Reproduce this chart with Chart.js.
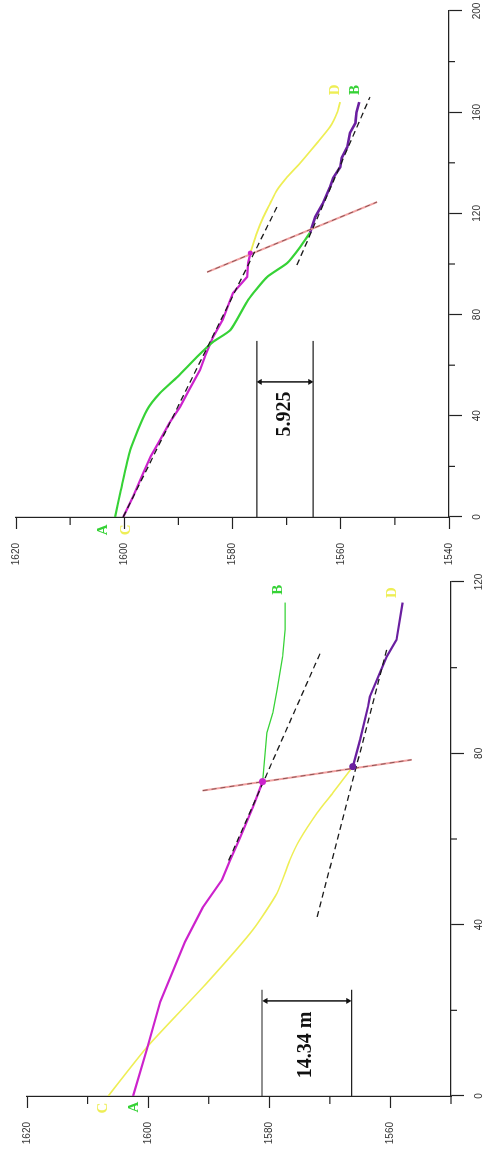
<!DOCTYPE html>
<html>
<head>
<meta charset="utf-8">
<script src="https://cdn.jsdelivr.net/npm/chart.js@4.4.1/dist/chart.umd.min.js"></script>
<style>
  html, body { margin: 0; padding: 0; background: #fff; overflow: hidden; }
  #wrap {
    position: absolute; left: 0; top: 0;
    width: 1158px; height: 489px;
    transform-origin: 0 0;
    transform: translate(0, 1158px) rotate(-90deg);
  }
  #wrap canvas { position: absolute; left: 0; top: 0; }
</style>
</head>
<body>
<div id="wrap">
  <canvas id="profile-a" width="1158" height="489"></canvas>
  <canvas id="profile-b" width="1158" height="489"></canvas>
</div>
<script>
// ---- panel 1 (distance 0..120) ----
const distTicks1 = [0, 40, 80, 120];
const distMinor1 = [20, 60, 100];
const elevTicks1 = [1560, 1580, 1600, 1620];
const elevMinor1 = [1550, 1570, 1590, 1610];

const upperHwDist1 = [0, 11, 22, 36, 44, 50.5, 55, 60, 67.5, 73.4];
const upperHwElev1 = [1602.5, 1600.2, 1598, 1593.9, 1591, 1587.8, 1586.5, 1584.9, 1582.7, 1581.1];
const upperFwDist1 = [73.4, 80.1, 84.8, 89.5, 94.9, 102.6, 108.9, 115.2];
const upperFwElev1 = [1581.1, 1580.7, 1580.4, 1579.4, 1578.7, 1577.8, 1577.4, 1577.4];
const lowerHwDist1 = [0, 11.4, 26.4, 38.8, 47.4, 55.1, 59.8, 66.1, 70.8, 76.9];
const lowerHwElev1 = [1606.6, 1600.2, 1590.3, 1582.7, 1578.7, 1576.6, 1575, 1572.1, 1569.5, 1566.2];
const lowerFwDist1 = [76.9, 83.2, 90.9, 93.2, 97.2, 102.6, 106.5, 115.2];
const lowerFwElev1 = [1566.2, 1565, 1563.7, 1563.4, 1562.2, 1560.6, 1559, 1558];

const fitUpperDist1 = [55, 104];
const fitUpperElev1 = [1586.7, 1571.4];
const fitLowerDist1 = [41.8, 104.2];
const fitLowerElev1 = [1572.1, 1560.6];
const faultDist1 = [71.3, 78.5];
const faultElev1 = [1591, 1556.5];
const pierceDist1 = [73.4, 76.9];
const pierceElev1 = [1581.1, 1566.2];

const offsetElev1 = [1581.2, 1566.4];
const offsetSpan1 = [0, 24.8];
const offsetArrowDist1 = 22.2;
const offsetText1 = '14.34 m';

// ---- panel 2 (distance 0..200) ----
const distTicks2 = [0, 40, 80, 120, 160, 200];
const distMinor2 = [20, 60, 100, 140, 180];
const elevTicks2 = [1540, 1560, 1580, 1600, 1620];
const elevMinor2 = [1550, 1570, 1590, 1610];

const upperHwDist2 = [0, 10, 26.5, 42.3, 49, 55.3, 63.2, 69.2, 73.9, 85.8, 94.9, 100.4, 106.7, 112.3];
const upperHwElev2 = [1601.7, 1600.7, 1598.9, 1595.8, 1593.4, 1590.2, 1586.6, 1583.6, 1580.4, 1577.1, 1573.6, 1569.9, 1567.5, 1565.7];
const upperFwDist2 = [112.3, 118.6, 124, 130.4, 134, 138.3, 142, 146.2, 151.8, 155.7, 160, 164];
const upperFwElev2 = [1565.7, 1564.7, 1563.3, 1562, 1561.4, 1560.1, 1559.8, 1558.8, 1558.3, 1557.3, 1557.1, 1556.6];
const lowerHwDist2 = [0, 8, 17.4, 24, 30.4, 37, 43.5, 50, 58.1, 64, 71.1, 78, 85.8, 88.5, 94.9, 100.4, 104.3];
const lowerHwElev2 = [1600.2, 1598.4, 1596.5, 1595.1, 1593.4, 1591.7, 1589.7, 1588.1, 1586, 1585, 1583.6, 1581.8, 1580.4, 1579.9, 1577.3, 1577.1, 1576.7];
const lowerFwDist2 = [104.3, 112.3, 118.6, 124.1, 129.2, 134.4, 139.9, 147.8, 154.2, 159.7, 164];
const lowerFwElev2 = [1576.7, 1575.5, 1574.3, 1573, 1571.8, 1569.9, 1567.5, 1564.4, 1562, 1560.7, 1560.1];

const fitUpperDist2 = [0, 122.5];
const fitUpperElev2 = [1600.2, 1571.8];
const fitLowerDist2 = [99.6, 166];
const fitLowerElev2 = [1568.1, 1554.6];
const faultDist2 = [96.8, 124.5];
const faultElev2 = [1584.7, 1553.3];
const pierceDist2 = [104.3];
const pierceElev2 = [1576.7];

const offsetElev2 = [1575.5, 1565.1];
const offsetSpan2 = [0, 69.6];
const offsetArrowDist2 = 53.4;
const offsetText2 = '5.925';

const GREEN = '#36d236';
const YELLOW = '#eeee55';
const MAGENTA = '#cc22cc';
const PURPLE = '#6a1fa0';

function pts(xs, ys) {
    return xs.map((x, i) => ({ x: x, y: ys[i] }));
}

function lineSet(xs, ys, color, width, extra) {
    return Object.assign({
        data: pts(xs, ys),
        showLine: true,
        borderColor: color,
        backgroundColor: color,
        borderWidth: width,
        pointRadius: 0,
        tension: 0,
        order: 5
    }, extra || {});
}

function dimensionSets(elev, span, arrowX) {
    return [
        lineSet(span, [elev[0], elev[0]], '#222', 1.2, { order: 6 }),
        lineSet(span, [elev[1], elev[1]], '#222', 1.2, { order: 6 }),
        lineSet([arrowX, arrowX], [elev[1] + 0.6, elev[0] - 0.6], '#111', 1.5, {
            order: 6,
            pointRadius: 3.5,
            pointStyle: 'triangle',
            pointRotation: [180, 0],
            pointBorderWidth: 0
        })
    ];
}

const overlay = {
    id: 'overlay',
    afterDraw(chart, args, opts) {
        const ctx = chart.ctx;
        const x = chart.scales.x;
        const y = chart.scales.y;
        const area = chart.chartArea;
        ctx.save();
        ctx.strokeStyle = '#222';
        ctx.lineWidth = 1.2;
        opts.distMinor.forEach(v => {
            const px = x.getPixelForValue(v);
            ctx.beginPath();
            ctx.moveTo(px, area.bottom);
            ctx.lineTo(px, area.bottom + 6);
            ctx.stroke();
        });
        opts.elevMinor.forEach(v => {
            const py = y.getPixelForValue(v);
            ctx.beginPath();
            ctx.moveTo(area.left, py);
            ctx.lineTo(area.left - 8, py);
            ctx.stroke();
        });

        ctx.textAlign = 'center';
        ctx.textBaseline = 'middle';
        ctx.font = 'bold 15px "Liberation Serif", "Times New Roman", serif';
        opts.labels.forEach(l => {
            ctx.fillStyle = l.color;
            ctx.fillText(l.text, x.getPixelForValue(l.x), y.getPixelForValue(l.y));
        });

        ctx.fillStyle = '#111';
        ctx.font = 'bold 20px "Liberation Serif", "Times New Roman", serif';
        ctx.fillText(opts.note.text, x.getPixelForValue(opts.note.x), y.getPixelForValue(opts.note.y));
        ctx.restore();
    }
};

function makeScales(xMax, yMin, distTicks, elevTicks, yWidth, xHeight) {
    const tickFont = { family: '"Liberation Sans", Arial, sans-serif', size: 10 };
    return {
        x: {
            type: 'linear',
            min: 0,
            max: xMax,
            afterBuildTicks: s => { s.ticks = distTicks.map(v => ({ value: v })); },
            afterFit: s => { s.height = xHeight; s.paddingLeft = 0; s.paddingRight = 0; },
            grid: { drawOnChartArea: false, drawTicks: true, tickLength: 13, tickColor: '#222', tickWidth: 1.2 },
            border: { display: true, color: '#222', width: 1.2 },
            ticks: { padding: 9, color: '#333', font: tickFont, maxRotation: 0, autoSkip: false, callback: v => String(v) }
        },
        y: {
            type: 'linear',
            min: yMin,
            max: 1620,
            afterBuildTicks: s => { s.ticks = elevTicks.map(v => ({ value: v })); },
            afterFit: s => { s.width = yWidth; s.paddingTop = 0; s.paddingBottom = 0; },
            grid: { drawOnChartArea: false, drawTicks: true, tickLength: 12, tickColor: '#222', tickWidth: 1.2 },
            border: { display: true, color: '#222', width: 1.2 },
            ticks: { padding: 14, color: '#333', font: tickFont, autoSkip: false, callback: v => String(v) }
        }
    };
}

function redFault(xs, ys) {
    return [
        lineSet(xs, ys, '#f2a2a2', 2, { order: 3 }),
        lineSet(xs, ys, '#8a5454', 1, { order: 2, borderDash: [5, 4] })
    ];
}

function fitLine(xs, ys) {
    return lineSet(xs, ys, '#1a1a1a', 1.3, { order: 1, borderDash: [6, 4] });
}

function dots(xs, ys, colors, r) {
    return {
        data: pts(xs, ys),
        showLine: false,
        pointRadius: r,
        pointBackgroundColor: colors,
        pointBorderWidth: 0,
        order: 0
    };
}

// panel 1
new Chart(document.getElementById('profile-a'), {
    type: 'scatter',
    data: {
        datasets: [
            dots(pierceDist1, pierceElev1, [MAGENTA, PURPLE], 3.5),
            fitLine(fitUpperDist1, fitUpperElev1),
            fitLine(fitLowerDist1, fitLowerElev1),
            ...redFault(faultDist1, faultElev1),
            lineSet(upperHwDist1, upperHwElev1, MAGENTA, 2.2),
            lineSet(upperFwDist1, upperFwElev1, GREEN, 1.3),
            lineSet(lowerHwDist1, lowerHwElev1, YELLOW, 1.6, { tension: 0.2 }),
            lineSet(lowerFwDist1, lowerFwElev1, PURPLE, 2.2),
            ...dimensionSets(offsetElev1, offsetSpan1, offsetArrowDist1)
        ]
    },
    options: {
        responsive: false,
        animation: false,
        events: [],
        layout: { padding: { left: 0, top: 27, right: 582, bottom: 0 } },
        scales: makeScales(120, 1550, distTicks1, elevTicks1, 62, 38),
        plugins: {
            legend: { display: false },
            tooltip: { enabled: false },
            overlay: {
                distMinor: distMinor1,
                elevMinor: elevMinor1,
                labels: [
                    { text: 'C', x: -2.8, y: 1607.5, color: YELLOW },
                    { text: 'A', x: -2.6, y: 1602.3, color: GREEN },
                    { text: 'B', x: 118.2, y: 1578.6, color: GREEN },
                    { text: 'D', x: 117.5, y: 1559.8, color: YELLOW }
                ],
                note: { text: offsetText1, x: 11.9, y: 1574 }
            }
        }
    },
    plugins: [overlay]
});

// panel 2
new Chart(document.getElementById('profile-b'), {
    type: 'scatter',
    data: {
        datasets: [
            dots(pierceDist2, pierceElev2, [MAGENTA], 2.5),
            fitLine(fitUpperDist2, fitUpperElev2),
            fitLine(fitLowerDist2, fitLowerElev2),
            ...redFault(faultDist2, faultElev2),
            lineSet(upperHwDist2, upperHwElev2, GREEN, 2.2, { tension: 0.2 }),
            lineSet(upperFwDist2, upperFwElev2, PURPLE, 2.6),
            lineSet(lowerHwDist2, lowerHwElev2, MAGENTA, 2.2),
            lineSet(lowerFwDist2, lowerFwElev2, YELLOW, 1.8, { tension: 0.2 }),
            ...dimensionSets(offsetElev2, offsetSpan2, offsetArrowDist2)
        ]
    },
    options: {
        responsive: false,
        animation: false,
        events: [],
        layout: { padding: { left: 581, top: 16, right: 11, bottom: 0 } },
        scales: makeScales(200, 1540, distTicks2, elevTicks2, 60, 40),
        plugins: {
            legend: { display: false },
            tooltip: { enabled: false },
            overlay: {
                distMinor: distMinor2,
                elevMinor: elevMinor2,
                labels: [
                    { text: 'A', x: -5.1, y: 1603.9, color: GREEN },
                    { text: 'C', x: -5.1, y: 1599.6, color: YELLOW },
                    { text: 'D', x: 168.8, y: 1561, color: YELLOW },
                    { text: 'B', x: 168.8, y: 1557.3, color: GREEN }
                ],
                note: { text: offsetText2, x: 40.7, y: 1570.3 }
            }
        }
    },
    plugins: [overlay]
});
</script>
</body>
</html>
